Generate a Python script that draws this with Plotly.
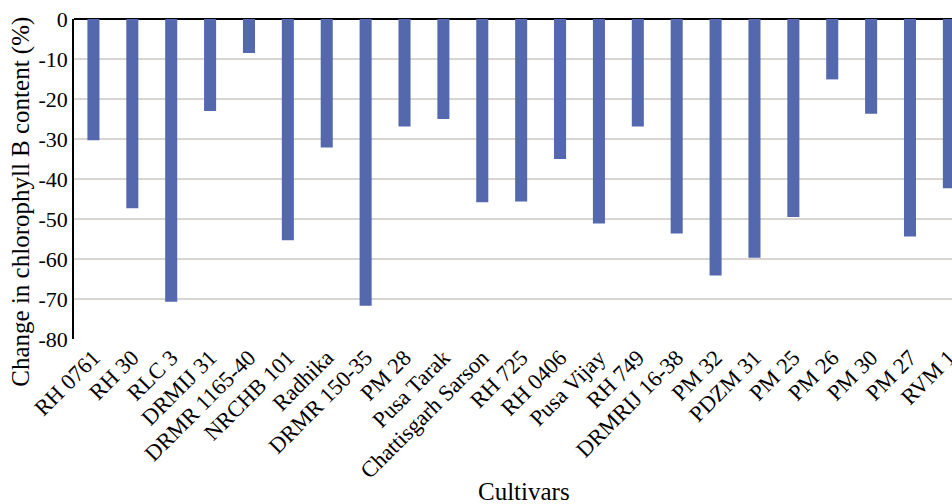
import plotly.graph_objects as go

cultivars = ["RH 0761", "RH 30", "RLC 3", "DRMIJ 31", "DRMR 1165-40", "NRCHB 101",
             "Radhika", "DRMR 150-35", "PM 28", "Pusa Tarak", "Chattisgarh Sarson",
             "RH 725", "RH 0406", "Pusa Vijay", "RH 749", "DRMRIJ 16-38", "PM 32",
             "PDZM 31", "PM 25", "PM 26", "PM 30", "PM 27", "RVM 1"]
change = [-30.3, -47.3, -70.7, -23.0, -8.5, -55.3, -32.1, -71.7, -26.9, -25.0, -45.8,
          -45.6, -35.0, -51.1, -26.9, -53.6, -64.1, -59.7, -49.5, -15.1, -23.7, -54.4, -42.3]
y_ticks = [0, -10, -20, -30, -40, -50, -60, -70, -80]
y_ticktext = ["0", "-10", "-20", "-30", "-40", "-50", "-60", "-70", "-80"]

font_family = "Liberation Serif, Times New Roman, serif"

fig = go.Figure(go.Bar(
    x=list(range(len(cultivars))), y=change,
    marker=dict(color="#5468AE", line=dict(width=0)),
    width=0.31,
))

fig.update_layout(
    width=952, height=504,
    margin=dict(l=74, r=0, t=19, b=165, autoexpand=False),
    paper_bgcolor="white", plot_bgcolor="white",
    showlegend=False,
    font=dict(family=font_family, color="black"),
    xaxis=dict(
        range=[-0.5, 22.08], automargin=False, ticklabeloverflow="allow",
        tickvals=list(range(len(cultivars))), ticktext=cultivars,
        tickangle=-45, tickfont=dict(size=22.5, family=font_family),
        showgrid=False, showline=False, zeroline=False, ticks="",
    ),
    yaxis=dict(
        range=[-80, 0], automargin=False,
        tickvals=y_ticks, ticktext=y_ticktext,
        tickfont=dict(size=22, family=font_family),
        showgrid=True, gridcolor="#DAD5D1", gridwidth=1.5,
        showline=True, linecolor="black", linewidth=1.5,
        zeroline=True, zerolinecolor="black", zerolinewidth=2,
        ticks="", ticklen=0,
    ),
    annotations=[
        dict(text="Change in chlorophyll B content (%)", xref="paper", yref="paper",
             x=-0.06, y=0.43, xanchor="center", yanchor="middle", textangle=-90,
             showarrow=False, font=dict(size=25, family=font_family)),
        dict(text="Cultivars", xref="paper", yref="paper",
             x=0.513, y=-0.478, xanchor="center", yanchor="middle",
             showarrow=False, font=dict(size=25, family=font_family)),
    ],
)

fig.write_html("out.html", config={"displayModeBar": False},
               post_script="document.body.style.margin='0';")
